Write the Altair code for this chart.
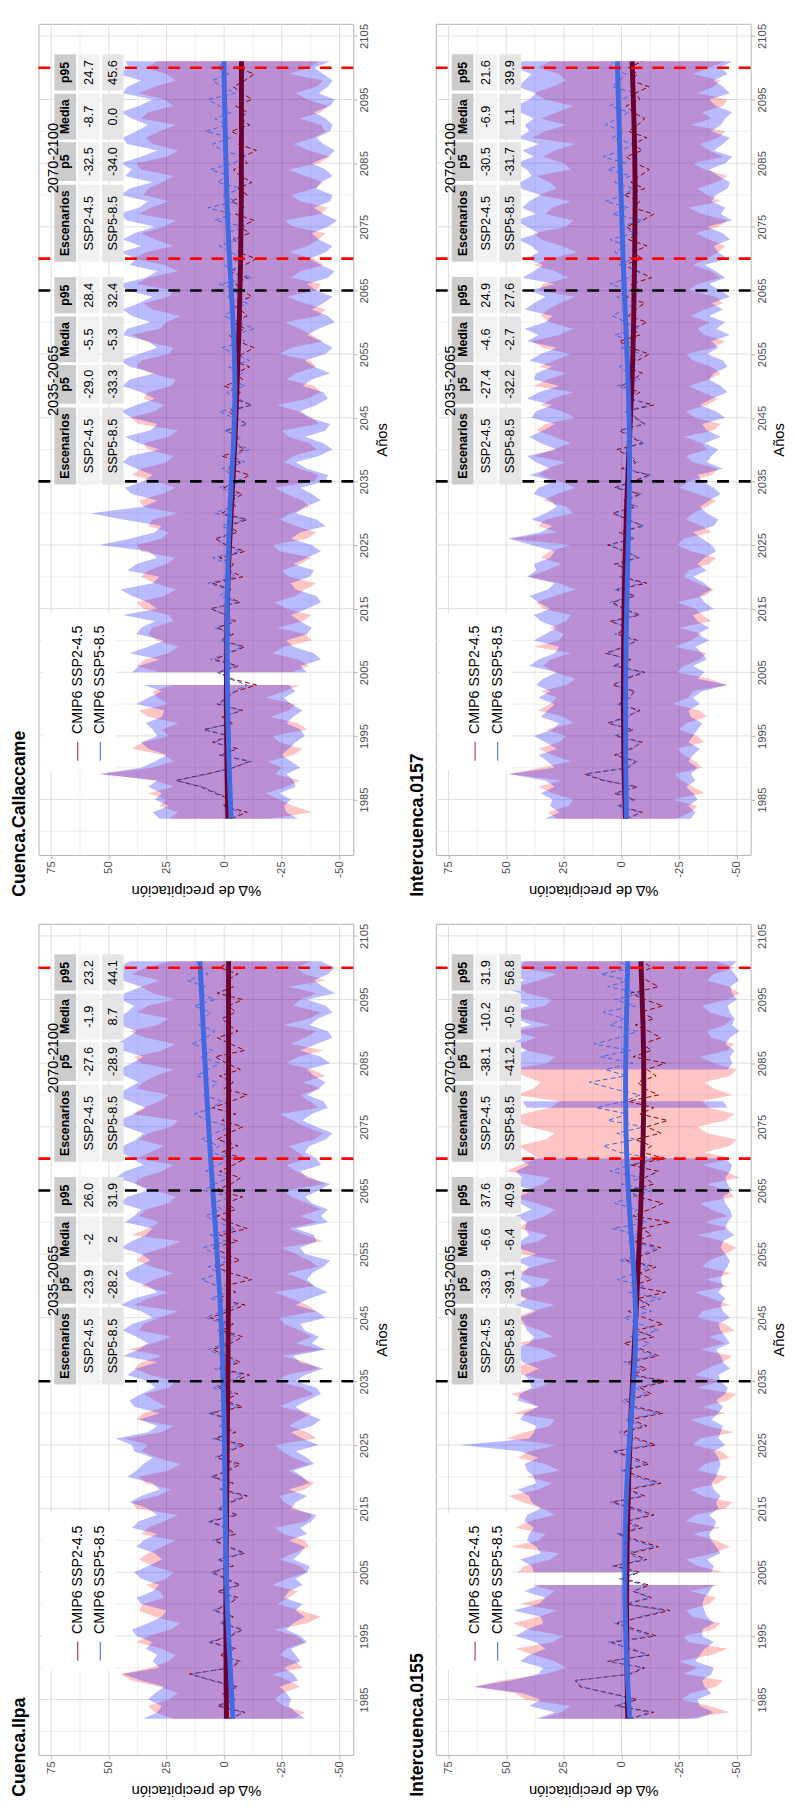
import altair as alt
import pandas as pd

FONT = "Liberation Sans"
YEARS = list(range(1982, 2102))
TREND_YEARS = [1982, 1990, 2000, 2010, 2020, 2030, 2040, 2050, 2060, 2070, 2080, 2090, 2101]
N = None

# ---------------- Cuenca.Callaccame ----------------
C_HI45 = [24,20,28,25,33,22,30,54,31,22, 26,40,35,24,27,20,33,37,24,29, 31,22,N,28,38,34,24,20,29,33,
          31,22,24,35,38,26,21,30,36,33, 25,21,36,38,27,24,33,31,20,35, 37,27,21,30,40,36,25,22,33,35,
          24,20,37,41,30,26,35,33,23,21, 32,38,36,24,22,34,40,28,25,19, 31,35,24,22,38,33,20,26,39,34,
          22,30,36,26,21,37,32,24,35,33, 27,22,36,38,25,20,31,34,28,21, 36,33,22,26,37,30,21,25,34,29]
C_HI85 = [28,31,24,30,27,33,29,54,36,30, 25,33,36,29,31,34,27,26,38,33, 27,35,N,40,37,28,41,33,26,38,
          36,30,44,29,33,40,45,31,28,42, 38,29,33,54,41,30,27,44,58,35, 29,40,43,35,31,38,44,41,28,37,
          43,32,29,40,45,38,30,36,44,41, 30,41,45,37,29,33,44,42,32,40, 44,37,31,42,45,34,29,41,38,45,
          36,44,39,30,42,46,37,33,45,41, 31,43,40,45,36,29,42,44,38,33, 40,45,37,31,44,42,36,46,41,43]
C_LO45 = [-20,-38,-30,-24,-18,-27,-33,-22,-25,-19, -30,-34,-24,-21,-36,-32,-20,-28,-31,-18, -26,-33,N,-29,-37,-32,-21,-26,-38,-35,
          -23,-34,-38,-27,-22,-31,-35,-40,-28,-25, -33,-38,-24,-21,-36,-40,-31,-24,-29,-37, -34,-27,-22,-39,-41,-33,-26,-30,-40,-37,
          -28,-25,-41,-38,-32,-23,-36,-42,-39,-27, -31,-40,-37,-24,-29,-43,-38,-33,-26,-41, -44,-35,-27,-40,-42,-29,-33,-43,-39,-28,
          -36,-41,-44,-30,-26,-42,-45,-33,-29,-39, -43,-35,-28,-41,-46,-37,-30,-39,-44,-42, -33,-42,-45,-36,-31,-40,-43,-28,-37,-41]
C_LO85 = [-32,-27,-26,-29,-24,-31,-30,-27,-33,-29, -25,-28,-31,-35,-33,-27,-30,-34,-29,-26, -31,-28,N,-36,-33,-42,-39,-30,-27,-36,
          -38,-33,-29,-36,-42,-40,-31,-29,-37,-39, -30,-36,-42,-38,-29,-33,-44,-40,-31,-35, -42,-38,-33,-44,-45,-36,-31,-41,-47,-43,
          -35,-44,-46,-37,-33,-40,-45,-43,-34,-38, -46,-39,-35,-44,-47,-42,-36,-41,-48,-45, -38,-43,-47,-40,-36,-45,-48,-42,-37,-44,
          -47,-41,-38,-45,-49,-43,-39,-46,-47,-40, -42,-47,-44,-38,-45,-48,-43,-40,-46,-47, -44,-39,-46,-48,-41,-45,-47,-43,-39,-46]
C_M45 = [-3,-10,0,-3,4,10,21,8,-4,-11, 2,-6,5,-2,9,-4,1,-8,3,-1, -5,-14,-3,2,-6,4,-2,-9,1,-4,
         3,-5,-1,6,-7,0,-3,5,-8,-2, -4,2,-9,-1,4,-6,-2,-10,1,-5, -3,-8,0,-6,-11,-2,-7,1,-9,-4,
         -6,-1,-10,-5,-2,-12,-4,-7,0,-8, -5,-11,-3,-8,-13,-6,-2,-9,-4,-10, -7,-3,-12,-8,-5,-10,-2,-9,-14,-6,
         -8,-4,-11,-7,-13,-5,-9,-3,-10,-6, -12,-7,-4,-10,-8,-14,-6,-9,-3,-11, -7,-10,-5,-12,-8,-4,-9,-13,-6,-8]
C_M85 = [-5,-7,1,-4,3,9,21,7,-3,-12, 1,-5,4,-3,8,-3,0,-7,2,-2, -4,-10,-2,3,-5,6,-1,-8,2,-3,
         4,-4,0,5,-6,2,-2,7,-5,-1, -2,5,-7,0,3,-5,1,-9,4,-3, -1,-6,2,-8,-4,1,-9,-3,-11,-5,
         -7,0,-10,-4,2,-12,-6,-1,-9,-3, -8,-2,-11,-5,1,-9,-4,-13,-6,0, -4,-10,-1,-7,2,-12,-5,0,-8,-3,
         2,-6,-1,-9,4,-3,7,-5,1,-8, 3,-2,6,-4,-9,1,5,-3,8,-1, 4,-3,2,7,-5,1,5,-2,3,0]
C_T45 = [-1.6,-1.2,-0.9,-1.0,-1.6,-3.0,-4.6,-5.6,-6.6,-7.2,-7.5,-7.5,-7.5]
C_T85 = [-3.0,-2.1,-1.4,-1.2,-1.4,-2.3,-4.0,-5.0,-4.0,-2.2,-1.1,-0.4,0.1]
C_TAB = [[["-29.0", "-5.5", "28.4"], ["-33.3", "-5.3", "32.4"]],
         [["-32.5", "-8.7", "24.7"], ["-34.0", "0.0", "45.6"]]]

# ---------------- Cuenca.Ilpa ----------------
I_HI45 = [22,30,33,24,20,28,40,45,32,24, 21,27,38,33,23,19,30,37,35,26, 28,34,25,22,31,37,33,27,21,36,
          33,26,20,38,40,29,23,34,37,24, 19,29,36,33,43,27,22,38,35,25, 30,35,24,21,32,39,36,27,41,31,
          23,37,35,28,20,39,33,24,36,30, 22,31,38,35,26,19,40,33,28,37, 34,24,21,30,39,36,27,22,38,32,
          26,37,33,23,20,40,35,28,24,38, 35,30,22,36,39,27,21,34,41,29, 24,38,33,21,31,36,28,40,34,23]
I_HI85 = [35,29,27,33,30,26,36,44,28,31, 29,34,31,38,40,33,27,25,36,38, 31,28,36,39,33,27,30,38,35,29,
          40,37,29,33,41,36,28,31,42,38, 35,31,39,40,47,33,29,37,28,39, 41,36,30,33,42,38,29,44,37,33,
          38,44,40,31,36,45,39,29,33,41, 43,38,32,36,45,40,34,31,43,39, 36,45,42,33,38,47,43,35,40,45,
          44,38,35,43,46,39,34,41,47,42, 37,43,46,40,35,44,47,42,38,45, 47,42,39,45,43,36,44,48,46,41]
I_LO45 = [-30,-35,-26,-22,-25,-33,-28,-21,-34,-31, -24,-27,-35,-31,-22,-36,-42,-33,-23,-28, -32,-21,-27,-36,-33,-24,-30,-37,-35,-26,
          -22,-36,-38,-31,-26,-24,-35,-39,-33,-28, -37,-30,-25,-22,-40,-36,-28,-33,-38,-24, -30,-39,-34,-23,-27,-41,-36,-25,-42,-31,
          -38,-33,-26,-24,-40,-36,-29,-22,-39,-34, -27,-41,-37,-31,-25,-43,-35,-28,-40,-33, -42,-36,-29,-26,-44,-38,-31,-27,-36,-32,
          -28,-39,-43,-35,-30,-24,-41,-37,-33,-42, -34,-44,-38,-27,-32,-43,-29,-35,-40,-26, -37,-42,-30,-33,-40,-28,-44,-35,-31,-38]
I_LO85 = [-35,-31,-28,-29,-27,-24,-32,-30,-26,-33, -31,-29,-36,-33,-27,-30,-35,-31,-34,-26, -28,-34,-31,-36,-37,-30,-33,-35,-28,-36,
          -33,-38,-40,-29,-31,-36,-28,-37,-34,-30, -39,-36,-31,-41,-34,-29,-38,-42,-35,-31, -36,-42,-40,-31,-35,-43,-33,-30,-44,-38,
          -41,-35,-33,-44,-40,-31,-37,-45,-39,-36, -38,-43,-46,-35,-33,-40,-39,-31,-45,-42, -45,-38,-35,-41,-46,-36,-33,-42,-40,-35,
          -37,-44,-47,-40,-34,-38,-45,-43,-36,-41, -44,-39,-36,-46,-42,-33,-40,-47,-45,-37, -41,-47,-44,-36,-48,-43,-39,-45,-48,-42]
I_M45 = [-2,-9,3,-4,1,-6,5,15,-3,-7, 2,-5,6,-3,-8,1,-4,4,-2,-6, 3,-7,-1,5,-4,2,-9,-2,4,-5,
         -1,6,-6,2,-3,-10,1,-4,5,-2, -7,3,-2,-9,4,-5,1,-3,6,-8, 0,-6,3,-4,-11,2,-7,-1,5,-3,
         -8,1,-4,6,-2,-9,3,-5,0,-12, -3,4,-7,-1,5,-6,2,-10,-2,3, -5,-1,-8,4,-3,-7,2,-4,-9,1,
         -6,3,-2,-8,1,-5,5,-3,-10,0, -4,2,-7,-1,4,-9,-3,3,-6,-2, 1,-5,-2,-8,3,-4,-1,-6,2,-3]
I_M85 = [-4,-8,2,-5,0,-5,6,14,-2,-6, 1,-4,7,-2,-7,2,-3,5,-1,-5, 2,-6,0,6,-3,3,-8,-1,5,-4,
         0,7,-5,3,-2,-8,2,-3,6,-1, -5,4,-1,-7,5,-3,2,-2,7,-6, 2,-4,5,-2,-8,4,-5,1,7,-1,
         -5,3,-1,8,1,-6,6,-2,3,10, 2,7,-3,4,9,-1,6,-5,3,8, 1,5,-3,9,4,-2,8,3,-4,6,
         2,10,4,-3,7,13,5,1,9,6, 3,12,7,2,10,5,14,8,4,11, 9,6,13,4,11,8,16,7,10,12]
I_T45 = [-1.0,-0.8,-0.7,-0.9,-1.2,-1.5,-1.7,-1.9,-1.9,-1.9,-1.9,-1.9,-1.9]
I_T85 = [-3.8,-2.6,-1.2,-0.6,-0.3,0.0,0.8,2.0,4.0,5.9,7.6,9.0,10.5]
I_TAB = [[["-23.9", "-2", "26.0"], ["-28.2", "2", "31.9"]],
         [["-27.6", "-1.9", "23.2"], ["-28.9", "8.7", "44.1"]]]

# ---------------- Intercuenca.0157 ----------------
Q_HI45 = [28,32,23,21,30,36,26,49,35,22, 30,36,27,24,33,21,25,36,31,28, 35,24,20,29,34,31,22,38,27,25,
          31,24,22,34,37,29,20,27,40,33, 26,35,31,22,49,28,36,33,21,24, 34,28,20,27,36,33,24,38,30,22,
          29,37,33,20,26,35,30,21,38,32, 24,36,29,22,34,39,27,21,31,35, 32,27,20,36,34,23,29,38,31,19,
          26,35,38,24,21,33,30,22,36,28, 31,37,22,25,34,29,20,39,33,24, 35,28,21,33,38,30,24,27,36,31]
Q_HI85 = [33,27,31,30,35,29,33,49,29,32, 36,28,33,38,30,27,35,32,29,36, 31,37,34,28,40,36,29,27,38,33,
          28,35,38,31,36,40,32,29,41,37, 38,31,29,39,49,35,30,39,33,28, 31,38,36,29,40,31,37,41,28,35,
          40,34,29,39,37,30,41,36,27,38, 37,30,40,35,28,41,36,42,33,30, 42,38,33,40,29,43,38,34,41,36,
          39,45,36,41,46,37,43,40,35,44, 44,39,41,46,38,43,36,45,40,42, 38,44,46,40,37,45,42,39,46,43]
Q_LO45 = [-24,-30,-33,-22,-36,-31,-26,-23,-35,-32, -27,-24,-36,-33,-25,-28,-37,-34,-22,-29, -31,-46,-38,-24,-27,-34,-37,-23,-30,-35,
          -25,-39,-35,-32,-24,-36,-40,-33,-27,-29, -38,-41,-30,-24,-27,-39,-35,-28,-31,-37, -41,-33,-25,-29,-39,-42,-31,-28,-37,-35,
          -27,-40,-43,-32,-28,-37,-42,-35,-29,-38, -43,-39,-31,-28,-40,-45,-36,-33,-38,-30, -36,-44,-41,-29,-33,-43,-39,-31,-37,-42,
          -45,-38,-32,-42,-46,-35,-29,-43,-37,-33, -41,-46,-36,-31,-44,-38,-34,-42,-45,-30, -39,-35,-44,-46,-33,-40,-43,-31,-38,-45]
Q_LO85 = [-30,-32,-29,-33,-31,-28,-32,-30,-33,-29, -31,-34,-29,-31,-33,-35,-30,-29,-34,-31, -35,-46,-33,-36,-31,-37,-35,-32,-38,-33,
          -38,-33,-31,-40,-36,-34,-39,-36,-31,-37, -33,-36,-41,-39,-35,-31,-40,-42,-37,-34, -38,-43,-40,-35,-33,-44,-37,-39,-42,-36,
          -43,-37,-35,-45,-41,-34,-39,-46,-43,-38, -40,-46,-44,-37,-42,-39,-47,-41,-45,-38, -44,-39,-47,-43,-38,-45,-41,-36,-46,-42,
          -40,-47,-44,-37,-48,-43,-45,-39,-41,-46, -47,-42,-38,-45,-48,-40,-44,-47,-39,-43, -45,-48,-41,-38,-47,-44,-40,-46,-43,-48]
Q_M45 = [-2,-9,1,-5,3,-7,8,16,-3,-6, 3,-4,-9,2,-5,6,-2,-8,1,-3, -6,4,-2,-10,3,-4,7,-1,-7,2,
         -3,5,-8,-1,4,-6,2,-11,0,-4, 3,-7,-2,6,-5,1,-9,-3,4,-6, -1,-8,3,-5,-12,0,-6,-3,2,-9,
         -4,1,-10,-6,-2,-14,-3,-8,0,-5, -9,-2,-7,-12,-4,1,-8,-5,-11,-3, -6,-10,-2,-8,-4,-13,-7,-1,-9,-5,
         -11,-3,-7,-2,-9,-14,-5,-8,-1,-10, -4,-8,-12,-6,-2,-9,-5,-11,-3,-7, -10,-5,-2,-8,-6,-12,-4,-7,-3,-9]
Q_M85 = [-4,-8,2,-6,2,-6,7,15,-2,-7, 2,-5,-8,3,-4,5,-3,-7,2,-4, -5,3,-1,-9,4,-3,6,-2,-6,3,
         -2,4,-7,0,5,-5,3,-9,1,-3, 2,-8,-1,5,-6,0,-10,-2,3,-7, -2,-9,2,-6,-13,-1,-7,-4,1,-10,
         -5,0,-9,-7,-1,-12,-4,-6,2,-8, -3,1,-6,-9,0,-4,3,-7,-2,4, -1,-6,2,-4,5,-3,-8,1,-5,3,
         -2,5,-6,1,-9,4,-3,7,-1,-5, 3,-4,6,-2,8,0,-5,4,-1,7, 2,-3,5,0,-6,4,1,-2,6,3]
Q_T45 = [-1.7,-1.0,-0.7,-0.9,-1.3,-2.0,-3.2,-4.6,-5.3,-5.7,-6.0,-5.6,-4.6]
Q_T85 = [-2.1,-1.8,-1.7,-1.9,-2.5,-3.3,-3.6,-3.0,-1.8,-0.6,0.2,1.0,1.8]
Q_TAB = [[["-27.4", "-4.6", "24.9"], ["-32.2", "-2.7", "27.6"]],
         [["-30.5", "-6.9", "21.6"], ["-31.7", "1.1", "39.9"]]]

# ---------------- Intercuenca.0155 ----------------
P_HI45 = [35,26,22,42,46,64,52,33,24,29, 38,46,30,25,40,47,36,28,44,33, 29,39,N,45,42,31,27,48,36,33,
          46,40,29,34,43,49,36,30,41,27, 33,45,40,28,50,42,31,29,47,36, 41,48,36,30,43,51,38,28,33,46,
          30,35,44,47,39,29,42,50,34,31, 46,38,28,43,49,36,32,45,41,33, 29,37,47,42,34,31,50,44,36,40,
          45,33,29,40,48,43,31,27,46,38, 35,42,49,32,29,41,45,37,47,31, 43,48,33,30,41,46,36,28,44,42]
P_HI85 = [37,29,40,35,43,64,48,36,34,44, 40,33,37,46,41,34,35,47,36,33, 42,36,N,38,39,44,35,37,41,40,
          38,42,41,35,39,40,45,37,38,41, 42,36,44,70,40,38,37,44,42,36, 45,44,39,40,42,36,43,44,48,40,
          38,41,42,44,37,46,41,47,39,44, 43,40,46,37,45,44,40,42,41,46, 39,44,45,38,47,43,46,40,45,N,
          N,N,N,N,N,N,41,43,N,N, N,N,47,44,50,41,48,43,52,39, 46,51,40,49,44,53,42,47,45,50]
P_LO45 = [-28,-47,-38,-26,-30,-41,-44,-27,-33,-25, -39,-46,-29,-27,-40,-43,-31,-28,-38,-41, -30,-42,N,-44,-33,-28,-40,-47,-41,-31,
          -43,-28,-32,-45,-48,-35,-30,-42,-46,-33, -36,-47,-43,-31,-34,-49,-37,-30,-45,-35, -46,-50,-33,-43,-32,-37,-44,-48,-34,-45,
          -38,-49,-45,-33,-35,-47,-39,-32,-46,-37, -48,-35,-38,-45,-50,-44,-33,-47,-36,-46, -39,-34,-49,-46,-37,-51,-45,-35,-48,-36,
          -47,-50,-37,-33,-45,-49,-38,-35,-48,-40, -36,-47,-50,-40,-34,-46,-49,-39,-37,-45, -48,-38,-35,-46,-51,-47,-37,-40,-49,-41]
P_LO85 = [-33,-40,-34,-33,-39,-36,-35,-39,-40,-32, -34,-36,-40,-35,-35,-40,-37,-36,-35,-36, -38,-40,N,-39,-40,-37,-43,-41,-39,-38,
          -40,-41,-38,-42,-41,-43,-40,-39,-41,-42, -43,-42,-40,-45,-42,-43,-44,-39,-42,-44, -41,-45,-46,-43,-42,-47,-44,-43,-41,-47,
          -45,-43,-42,-47,-44,-43,-45,-42,-44,-43, -44,-46,-47,-45,-43,-44,-49,-45,-46,-48, -47,-45,-44,-48,-46,-45,-47,-48,-45,N,
          N,N,N,N,N,N,-46,-44,N,N, N,N,-46,-48,-47,-49,-45,-47,-51,-48, -49,-47,-46,-50,-48,-47,-51,-49,-47,-50]
P_M45 = [-3,-14,2,-7,5,18,20,-4,-10,6, -12,-3,4,-15,-6,2,-9,-21,-2,-13, -5,-12,0,-8,3,-11,-4,-16,-7,1,
         -9,-2,-14,-6,4,-10,-3,-17,-8,-1, -12,-5,3,-15,-7,-1,-11,-4,-18,-6, -2,-13,-8,-20,-5,-11,-3,-16,-9,-1,
         -14,-6,-18,-10,-3,-12,-7,-19,-4,-13, -8,-15,-2,-11,-17,-6,-13,-9,-21,-5, -12,-18,-7,-3,-14,-10,-16,-4,-19,-9,
         -13,-6,-17,-11,-20,-8,-14,-3,-16,-10, -7,-15,-11,-19,-5,-13,-9,-17,-12,-6, -14,-8,-18,-10,-4,-16,-11,-7,-13,-9]
P_M85 = [-5,-12,3,-6,6,17,20,-3,-9,5, -11,-5,6,-13,-4,3,-8,-19,-1,-12, -6,-10,1,-7,4,-9,-2,-14,-5,2,
         -7,-1,-12,-4,5,-9,-2,-15,-6,0, -10,-3,4,-13,-5,1,-9,-2,-16,-4, 0,-11,-6,-18,-3,-9,-1,-14,-7,-12,
         -4,-16,-8,-1,-13,-5,-17,-3,-10,2, -6,-12,1,-9,-15,-3,-8,4,-11,-2, -7,3,-5,-13,0,-9,5,-4,-14,1,
         8,-6,2,-10,6,-3,11,-1,-8,4, 14,-2,7,-5,9,-4,12,1,-7,5, -1,8,-6,3,-9,6,-3,9,-5,2]
P_T45 = [-2.7,-2.3,-2.1,-2.4,-3.1,-4.0,-5.5,-6.9,-8.1,-9.2,-9.8,-9.5,-8.4]
P_T85 = [-3.6,-2.2,-1.4,-1.4,-2.3,-4.3,-6.4,-6.0,-3.7,-2.1,-1.6,-2.0,-2.7]
P_TAB = [[["-33.9", "-6.6", "37.6"], ["-39.1", "-6.4", "40.9"]],
         [["-38.1", "-10.2", "31.9"], ["-41.2", "-0.5", "56.8"]]]

for arr in [C_HI45, C_HI85, C_LO45, C_LO85, C_M45, C_M85, I_HI45, I_HI85, I_LO45, I_LO85, I_M45, I_M85,
            Q_HI45, Q_HI85, Q_LO45, Q_LO85, Q_M45, Q_M85, P_HI45, P_HI85, P_LO45, P_LO85, P_M45, P_M85]:
    assert len(arr) == len(YEARS), len(arr)

# ---------------- axes / decorations ----------------
X_DOMAIN = [-55.97, 80.5]
Y_DOMAIN = [1976.3, 2106.9]
X_TICKS = [75, 50, 25, 0, -25, -50]
Y_TICKS = [1985, 1995, 2005, 2015, 2025, 2035, 2045, 2055, 2065, 2075, 2085, 2095, 2105]
GRID_X_MINOR = [62.5, 37.5, 12.5, -12.5, -37.5]
GRID_Y_MINOR = [1980, 1990, 2000, 2010, 2020, 2030, 2040, 2050, 2060, 2070, 2080, 2090, 2100]
BLACK_LINES = [2035, 2065]
RED_LINES = [2070, 2100]

TABLE_PERIODS = ["2035-2065", "2070-2100"]
TABLE_CENTERS = [2050.8, 2085.8]
TABLE_COLS = [(-16.3, -4.2), (-3.6, 2.5), (2.9, 10.1), (10.6, 16.3)]
TABLE_ROWS = [(64.2, 73.6), (54.0, 63.5), (43.6, 53.0)]
TABLE_TITLE_X = 74.3
TABLE_HEADER = ["Escenarios", "p5", "Media", "p95"]
SCENARIOS = ["SSP2-4.5", "SSP5-8.5"]
TABLE_FILLS = ["#CCCCCC", "#F2F2F2", "#E5E5E5"]

LEGEND_BOX_X = (47.3, 78.8)
LEGEND_BOX_Y = (1989.6, 2014.3)
LEGEND_LABELS = ["CMIP6 SSP2-4.5", "CMIP6 SSP5-8.5"]
LEGEND_X = [63.5, 53.7]
LEGEND_SYM_Y = (1991.1, 1994.1)
LEGEND_TEXT_Y = 1995.3

RED_FILL, RED_OP = "#FF0000", 0.23
BLUE_FILL, BLUE_OP = "#0000FF", 0.27
THIN_RED, THIN_BLUE = "#8B0000", "#4169E1"
THICK_RED, THICK_BLUE = "#6A0032", "#4169E1"
LEG_COLORS = ["#B0404A", "#5B7BE0"]

XS = alt.Scale(domain=X_DOMAIN, reverse=True, nice=False, zero=False)
YS = alt.Scale(domain=Y_DOMAIN, nice=False, zero=False)
PW, PH = 320, 845

X_AXIS = alt.Axis(values=X_TICKS, labelAngle=270, labelAlign="right", labelBaseline="middle",
                  grid=False, domain=False, tickColor="#B3B3B3", tickSize=4, labelFontSize=11.5,
                  labelColor="#4D4D4D", labelPadding=2, labelExpr="datum.value + ''",
                  title="%Δ de precipitación", titleAngle=180, titleBaseline="bottom",
                  titleFontSize=15, titleFontWeight="normal", titleColor="black", titlePadding=5)
Y_AXIS = alt.Axis(orient="right", values=Y_TICKS, labelAngle=270, labelAlign="center",
                  labelBaseline="top", grid=False, domain=False, tickColor="#B3B3B3", tickSize=4,
                  labelFontSize=11.5, labelColor="#4D4D4D", labelPadding=2,
                  labelExpr="datum.value + ''", title="Años", titleAngle=270, titleBaseline="top",
                  titleFontSize=15, titleFontWeight="normal", titleColor="black", titlePadding=4)


def xq(f):
    return alt.X(f, scale=XS, axis=X_AXIS)


def yq(f):
    return alt.Y(f, scale=YS, axis=Y_AXIS)


def table_frames(tab):
    cells, texts = [], []
    for ti, center in enumerate(TABLE_CENTERS):
        for r, (xa, xb) in enumerate(TABLE_ROWS):
            row_txt = TABLE_HEADER if r == 0 else [SCENARIOS[r - 1]] + tab[ti][r - 1]
            for c, (ya, yb) in enumerate(TABLE_COLS):
                cells.append({"x1": xa, "x2": xb, "y1": center + ya, "y2": center + yb,
                              "fill": TABLE_FILLS[r]})
                texts.append({"x": (xa + xb) / 2, "y": center + (ya + yb) / 2,
                              "t": row_txt[c], "bold": r == 0})
    titles = pd.DataFrame({"x": [TABLE_TITLE_X] * 2, "y": TABLE_CENTERS, "t": TABLE_PERIODS})
    return pd.DataFrame(cells), pd.DataFrame(texts), titles


def panel(name, hi45, lo45, m45, hi85, lo85, m85, t45, t85, tab):
    df = pd.DataFrame({"year": YEARS, "hi45": hi45, "lo45": lo45, "m45": m45,
                       "hi85": hi85, "lo85": lo85, "m85": m85})
    tdf = pd.DataFrame({"year": TREND_YEARS, "t45": t45, "t85": t85})

    gx_min = alt.Chart(pd.DataFrame({"v": GRID_X_MINOR})).mark_rule(color="#EBEBEB", strokeWidth=0.8).encode(x=xq("v:Q"))
    gy_min = alt.Chart(pd.DataFrame({"v": GRID_Y_MINOR})).mark_rule(color="#EBEBEB", strokeWidth=0.8).encode(y=yq("v:Q"))
    gx_maj = alt.Chart(pd.DataFrame({"v": X_TICKS})).mark_rule(color="#DEDEDE", strokeWidth=1).encode(x=xq("v:Q"))
    gy_maj = alt.Chart(pd.DataFrame({"v": Y_TICKS})).mark_rule(color="#DEDEDE", strokeWidth=1).encode(y=yq("v:Q"))

    base = alt.Chart(df)
    rib45 = base.mark_area(orient="horizontal", color=RED_FILL, opacity=RED_OP).encode(
        x=xq("lo45:Q"), x2="hi45:Q", y=yq("year:Q"))
    rib85 = base.mark_area(orient="horizontal", color=BLUE_FILL, opacity=BLUE_OP).encode(
        x=xq("lo85:Q"), x2="hi85:Q", y=yq("year:Q"))
    thin45 = base.mark_line(color=THIN_RED, strokeWidth=1, strokeDash=[5, 3]).encode(
        x=xq("m45:Q"), y=yq("year:Q"), order="year:Q")
    thin85 = base.mark_line(color=THIN_BLUE, strokeWidth=1, strokeDash=[5, 3], strokeDashOffset=4).encode(
        x=xq("m85:Q"), y=yq("year:Q"), order="year:Q")
    tb = alt.Chart(tdf)
    thick45 = tb.mark_line(color=THICK_RED, strokeWidth=5, interpolate="basis").encode(
        x=xq("t45:Q"), y=yq("year:Q"), order="year:Q")
    thick85 = tb.mark_line(color=THICK_BLUE, strokeWidth=5, interpolate="basis").encode(
        x=xq("t85:Q"), y=yq("year:Q"), order="year:Q")

    vblack = alt.Chart(pd.DataFrame({"v": BLACK_LINES})).mark_rule(
        color="black", strokeWidth=2.6, strokeDash=[12, 10]).encode(y=yq("v:Q"))
    vred = alt.Chart(pd.DataFrame({"v": RED_LINES})).mark_rule(
        color="#FF0000", strokeWidth=2.6, strokeDash=[12, 10]).encode(y=yq("v:Q"))

    cells, texts, titles = table_frames(tab)
    cell_m = alt.Chart(cells).mark_rect().encode(
        x=xq("x1:Q"), x2="x2:Q", y=yq("y1:Q"), y2="y2:Q", color=alt.Color("fill:N", scale=None))
    txt_head = alt.Chart(texts[texts["bold"]]).mark_text(
        angle=270, fontSize=12.5, fontWeight="bold", color="black", baseline="middle", align="center").encode(
        x=xq("x:Q"), y=yq("y:Q"), text="t:N")
    txt_body = alt.Chart(texts[~texts["bold"]]).mark_text(
        angle=270, fontSize=13, color="black", baseline="middle", align="center").encode(
        x=xq("x:Q"), y=yq("y:Q"), text="t:N")
    txt_title = alt.Chart(titles).mark_text(
        angle=270, fontSize=15, color="black", baseline="middle", align="center").encode(
        x=xq("x:Q"), y=yq("y:Q"), text="t:N")

    leg_box = alt.Chart(pd.DataFrame({"x1": [LEGEND_BOX_X[0]], "x2": [LEGEND_BOX_X[1]],
                                      "y1": [LEGEND_BOX_Y[0]], "y2": [LEGEND_BOX_Y[1]]})).mark_rect(
        color="white").encode(x=xq("x1:Q"), x2="x2:Q", y=yq("y1:Q"), y2="y2:Q")
    leg_df = pd.DataFrame({"x": LEGEND_X, "y1": [LEGEND_SYM_Y[0]] * 2, "y2": [LEGEND_SYM_Y[1]] * 2,
                           "ty": [LEGEND_TEXT_Y] * 2, "lab": LEGEND_LABELS, "col": LEG_COLORS})
    leg_sym = alt.Chart(leg_df).mark_rule(strokeWidth=1.2).encode(
        x=xq("x:Q"), y=yq("y1:Q"), y2="y2:Q", color=alt.Color("col:N", scale=None))
    leg_txt = alt.Chart(leg_df).mark_text(angle=270, fontSize=14.5, align="left", baseline="middle",
                                          color="black").encode(x=xq("x:Q"), y=yq("ty:Q"), text="lab:N")

    return alt.layer(gx_min, gy_min, gx_maj, gy_maj, rib45, rib85, thin45, thin85, thick45, thick85,
                     vblack, vred, cell_m, txt_head, txt_body, txt_title, leg_box, leg_sym, leg_txt).properties(
        width=PW, height=PH,
        title=alt.TitleParams(text=name, orient="left", anchor="start", fontSize=18, fontWeight="bold",
                              color="black", offset=8))


pC = panel("Cuenca.Callaccame", C_HI45, C_LO45, C_M45, C_HI85, C_LO85, C_M85, C_T45, C_T85, C_TAB)
pI = panel("Cuenca.Ilpa", I_HI45, I_LO45, I_M45, I_HI85, I_LO85, I_M85, I_T45, I_T85, I_TAB)
pQ = panel("Intercuenca.0157", Q_HI45, Q_LO45, Q_M45, Q_HI85, Q_LO85, Q_M85, Q_T45, Q_T85, Q_TAB)
pP = panel("Intercuenca.0155", P_HI45, P_LO45, P_M45, P_HI85, P_LO85, P_M85, P_T45, P_T85, P_TAB)

chart = alt.hconcat(
    alt.vconcat(pC, pI, spacing=25),
    alt.vconcat(pQ, pP, spacing=25),
    spacing=19,
).properties(
    padding={"left": 3, "top": 0, "right": 0, "bottom": 0}
).configure(font=FONT).configure_view(stroke="#B3B3B3", strokeWidth=1)

chart.save("out.html", embed_options={"renderer": "svg", "actions": False})
